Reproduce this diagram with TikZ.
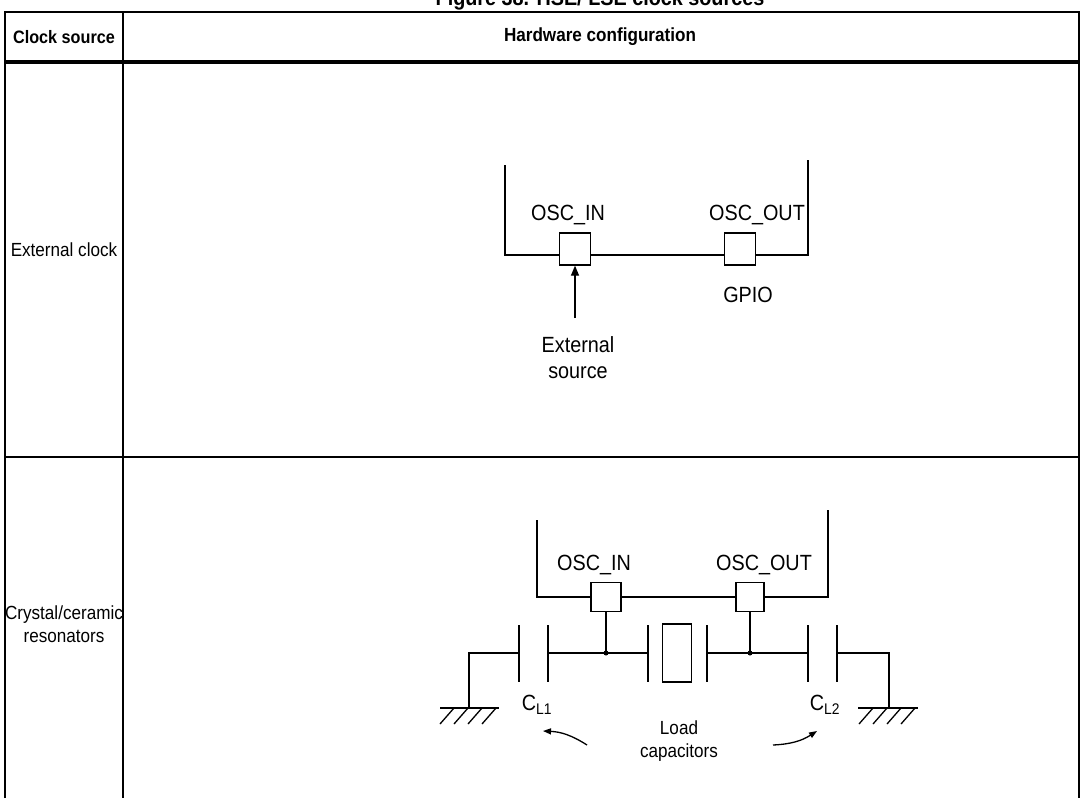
\documentclass[tikz,border=0pt]{standalone}
\usepackage{fontspec}
\setmainfont{Liberation Sans}[FakeStretch=0.9]
\usetikzlibrary{arrows.meta}
\begin{document}
\begin{tikzpicture}[x=1pt,y=-1pt,line width=1.6pt,
    txt/.style={font=\fontsize{22}{26}\selectfont,inner sep=0pt},
    lbl/.style={font=\fontsize{19}{23}\selectfont,inner sep=0pt},
    hd/.style={font=\fontsize{18}{22}\selectfont\bfseries,inner sep=0pt},
    pad/.style={draw,line width=1.3pt,fill=white,minimum width=31pt,minimum height=32pt,inner sep=0pt},
    wire/.style={line width=1.3pt},
    gnd/.style={line width=1.3pt}]
\useasboundingbox (0,0) rectangle (1081,798);
\node[hd,font=\fontsize{22}{26}\selectfont\bfseries] (title) at (600,0) {Figure 38. HSE/ LSE clock sources};
% table
\draw[line width=1.2pt] (5,798) -- (5,12) -- (1079,12) -- (1079,798);
\draw[line width=1.2pt] (123,12) -- (123,798);
\draw[line width=4pt] (5,62) -- (1079,62);
\draw[line width=1.2pt] (5,457) -- (1079,457);
\node[hd] (hsrc) at (64,37) {Clock source};
\node[hd,font=\fontsize{19}{22}\selectfont\bfseries] (hcfg) at (600,37) {Hardware configuration};
\node[lbl] (rext) at (64,250) {External clock};
\node[lbl,align=center] (rxtal) at (64,624) {Crystal/ceramic\\resonators};
% external clock
\draw (505,165) -- (505,255) -- (808,255) -- (808,160);
\node[pad] (inA) at (575,249) {};
\node[pad] (outA) at (740,249) {};
\node[txt] (linA) at (568,215) {OSC\_IN};
\node[txt] (loutA) at (757,215) {OSC\_OUT};
\node[txt] (gpio) at (748,295) {GPIO};
\node[txt,align=center] (ext) at (578,358) {External\\source};
\coordinate (arr) at (575,318);
\draw[wire,-{Triangle[length=10pt,width=8pt]}] (arr) -- (inA.south);
% crystal
\draw (537,520) -- (537,597) -- (828,597) -- (828,510);
\node[pad,minimum width=30pt,minimum height=29pt] (inB) at (606,597) {};
\node[pad,minimum width=28pt,minimum height=29pt] (outB) at (750,597) {};
\node[txt] (linB) at (594,565) {OSC\_IN};
\node[txt] (loutB) at (764,565) {OSC\_OUT};
\node[draw,line width=1.3pt,minimum width=29pt,minimum height=58pt,inner sep=0pt] (xtal) at (677,653) {};
\coordinate (dA) at (606,653);
\coordinate (dB) at (750,653);
\draw[wire] (inB.south) -- (dA);
\draw[wire] (outB.south) -- (dB);
\fill (dA) circle (2.5pt);
\fill (dB) circle (2.5pt);
\foreach \x in {519,548,648,707,808,837}{\draw[wire] (\x,625) -- (\x,682);}
\draw[wire] (548,653) -- (648,653);
\draw[wire] (707,653) -- (808,653);
\draw[wire] (519,653) -- (469,653) -- (469,708);
\draw[wire] (837,653) -- (889,653) -- (889,708);
\draw[gnd] (440,708) -- (499,708);
\draw[gnd] (858,708) -- (918,708);
\foreach \x in {454,468,482,496}{\draw[gnd] (\x,708) -- ++(-14,16);}
\foreach \x in {873,887,901,915}{\draw[gnd] (\x,708) -- ++(-14,16);}
\node[txt] (cl1) at (537,705) {C\textsubscript{L1}};
\node[txt] (cl2) at (825,705) {C\textsubscript{L2}};
\node[txt,align=center,font=\fontsize{19}{23}\selectfont] (load) at (679,741) {Load\\capacitors};
\coordinate (la) at (587,745);
\coordinate (ra) at (773,745);
\draw[wire,-{Triangle[length=8pt,width=6pt]}] (la) to[bend right=15] (543,731);
\draw[wire,-{Triangle[length=8pt,width=6pt]}] (ra) to[bend right=15] (817,731);
\end{tikzpicture}
\end{document}
